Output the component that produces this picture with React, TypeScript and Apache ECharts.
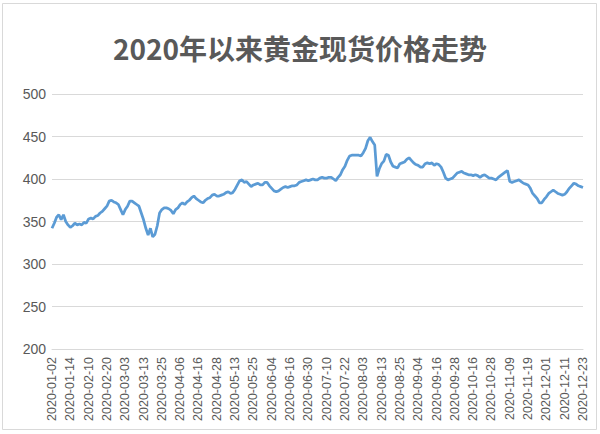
import React, { useEffect, useRef } from "react";
import * as echarts from "echarts";

const TITLE = "2020年以来黄金现货价格走势";

// Dates shown as tick labels on the x axis (every 8th trading day)
const tickDates = [
  "2020-01-02", "2020-01-14", "2020-02-10", "2020-02-20", "2020-03-03", "2020-03-13",
  "2020-03-25", "2020-04-06", "2020-04-16", "2020-04-28", "2020-05-13", "2020-05-25",
  "2020-06-04", "2020-06-16", "2020-06-30", "2020-07-10", "2020-07-22", "2020-08-03",
  "2020-08-13", "2020-08-25", "2020-09-04", "2020-09-16", "2020-09-28", "2020-10-16",
  "2020-10-28", "2020-11-09", "2020-11-19", "2020-12-01", "2020-12-11", "2020-12-23",
];

// Non-trading weekdays (Chinese holidays)
const holidays = [
  "2020-05-01", "2020-05-04", "2020-05-05", "2020-06-25", "2020-06-26",
  "2020-10-01", "2020-10-02", "2020-10-05", "2020-10-06", "2020-10-07", "2020-10-08",
];

// Gold spot price (yuan/gram), one value per trading day
const prices = [
  342, 348, 355, 358, 352, 358, 350, 346,
  343, 345, 348, 346, 347, 346, 349, 348,
  353, 354, 353, 356, 357, 360, 362, 365,
  368, 374, 375, 373, 372, 370, 364, 358,
  364, 368, 374, 374, 372, 370, 368, 360,
  352, 342, 334, 342, 332, 335, 345, 360,
  364, 366, 366, 365, 363, 359, 364, 366,
  370, 372, 370, 373, 375, 378, 380, 377,
  375, 373, 372, 375, 377, 378, 381, 382,
  380, 380, 381, 382, 384, 385, 383, 384,
  388, 393, 398, 399, 396, 397, 394, 391,
  393, 394, 395, 393, 393, 396, 396, 392,
  389, 386, 385, 386, 388, 390, 391, 390,
  391, 392, 392, 393, 396, 397, 398, 399,
  398, 399, 400, 399, 399, 401, 402, 401,
  401, 402, 402, 400, 398, 402, 405, 411,
  415, 422, 427, 428, 428, 428, 428, 427,
  431, 436, 445, 449, 444, 440, 403, 412,
  418, 421, 429, 428, 420, 415, 414, 413,
  418, 419, 420, 423, 425, 422, 419, 417,
  416, 414, 414, 418, 419, 418, 419, 416,
  418, 417, 414, 408, 401, 399, 400, 401,
  404, 407, 408, 409, 407, 406, 405, 405,
  404, 405, 404, 402, 404, 405, 403, 401,
  401, 400, 399, 402, 404, 406, 408, 410,
  397, 396, 397, 398, 399, 397, 395, 394,
  393, 389, 383, 380, 377, 372, 372, 376,
  379, 383, 385, 387, 385, 383, 382, 381,
  382, 385, 389, 392, 395, 394, 392, 391,
  390,
];

const yTicks = { min: 200, max: 500, interval: 50 };

function pad(n: number) {
  return n < 10 ? "0" + n : "" + n;
}

function buildCategories(): string[] {
  const hol = new Set(holidays);
  const out: string[] = [];
  for (let i = 0; i < tickDates.length; i++) {
    out.push(tickDates[i]);
    if (i === tickDates.length - 1) break;
    const [y, m, d] = tickDates[i].split("-").map(Number);
    const cur = new Date(Date.UTC(y, m - 1, d));
    let added = 0;
    while (added < 7) {
      cur.setUTCDate(cur.getUTCDate() + 1);
      const s = `${cur.getUTCFullYear()}-${pad(cur.getUTCMonth() + 1)}-${pad(cur.getUTCDate())}`;
      if (s >= tickDates[i + 1]) break;
      const wd = cur.getUTCDay();
      if (wd === 0 || wd === 6 || hol.has(s)) continue;
      out.push(s);
      added++;
    }
  }
  return out;
}

export default function App() {
  const ref = useRef<HTMLDivElement>(null);
  useEffect(() => {
    if (!ref.current) return;
    const chart = echarts.init(ref.current, null, { renderer: "svg" });
    const categories = buildCategories();
    chart.setOption({
      animation: false,
      backgroundColor: "#ffffff",
      title: {
        text: TITLE,
        left: "center",
        top: 29,
        textStyle: {
          fontFamily: "Noto Sans CJK SC",
          fontSize: 28,
          fontWeight: 600,
          color: "#595959",
        },
      },
      graphic: [
        {
          type: "rect",
          shape: { x: 2.5, y: 3.5, width: 594, height: 426 },
          style: { fill: "none", stroke: "#d9d9d9", lineWidth: 1 },
          silent: true,
        },
      ],
      grid: { left: 52, right: 17, top: 94, bottom: 85, containLabel: false },
      xAxis: {
        type: "category",
        data: categories,
        boundaryGap: false,
        axisLine: { show: true, lineStyle: { color: "#d9d9d9", width: 1 } },
        axisTick: { show: false },
        axisLabel: {
          interval: 7,
          rotate: 90,
          margin: 8,
          fontSize: 12.5,
          fontFamily: "Liberation Sans",
          color: "#595959",
        },
      },
      yAxis: {
        type: "value",
        min: yTicks.min,
        max: yTicks.max,
        interval: yTicks.interval,
        axisLine: { show: false },
        axisTick: { show: false },
        splitLine: { lineStyle: { color: "#d9d9d9", width: 1 } },
        axisLabel: {
          fontSize: 14,
          fontFamily: "Liberation Sans",
          color: "#595959",
          margin: 6,
        },
      },
      series: [
        {
          type: "line",
          data: prices,
          showSymbol: false,
          symbol: "none",
          lineStyle: { color: "#5b9bd5", width: 2.75 },
          itemStyle: { color: "#5b9bd5" },
        },
      ],
    });
    return () => chart.dispose();
  }, []);
  return (
    <div
      ref={ref}
      style={{ position: "fixed", left: 0, top: 0, width: 600, height: 434 }}
    />
  );
}
